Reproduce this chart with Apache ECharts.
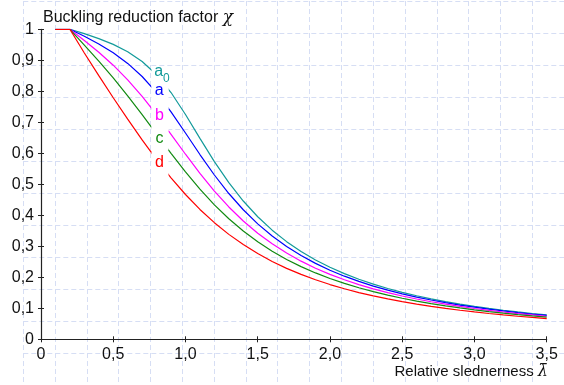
<!DOCTYPE html>
<html>
<head>
<meta charset="utf-8">
<script src="https://cdn.jsdelivr.net/npm/echarts@6/dist/echarts.min.js"></script>
<style>html,body{margin:0;padding:0;background:#fff}#c{width:564px;height:385px}</style>
</head>
<body>
<div id="c"></div>
<script>
// relative slenderness values (x)
const lambda = [0.1,0.2,0.3,0.4,0.5,0.6,0.7,0.8,0.9,1.0,1.1,1.2,1.3,1.4,1.5,1.6,1.7,1.8,1.9,2.0,2.1,2.2,2.3,2.4,2.5,2.6,2.7,2.8,2.9,3.0,3.1,3.2,3.3,3.4,3.5];
// buckling reduction factor chi per curve
const chiA0 = [1,1,0.9859,0.9701,0.9513,0.9276,0.8961,0.8533,0.7961,0.7253,0.6482,0.5732,0.5053,0.4461,0.3953,0.3520,0.3150,0.2833,0.2559,0.2323,0.2117,0.1937,0.1779,0.1639,0.1515,0.1404,0.1305,0.1216,0.1136,0.1063,0.0997,0.0937,0.0882,0.0832,0.0786];
const chiA  = [1,1,0.9775,0.9528,0.9243,0.8900,0.8477,0.7957,0.7339,0.6656,0.5960,0.5300,0.4703,0.4179,0.3724,0.3332,0.2994,0.2702,0.2449,0.2229,0.2036,0.1867,0.1717,0.1585,0.1467,0.1362,0.1267,0.1182,0.1105,0.1036,0.0972,0.0915,0.0862,0.0814,0.0769];
const chiB  = [1,1,0.9641,0.9261,0.8842,0.8371,0.7837,0.7245,0.6612,0.5970,0.5352,0.4781,0.4269,0.3817,0.3422,0.3079,0.2781,0.2521,0.2294,0.2095,0.1920,0.1765,0.1628,0.1506,0.1397,0.1299,0.1211,0.1132,0.1060,0.0994,0.0935,0.0880,0.0831,0.0785,0.0743];
const chiC  = [1,1,0.9491,0.8973,0.8430,0.7854,0.7247,0.6622,0.5998,0.5399,0.4842,0.4338,0.3888,0.3492,0.3145,0.2842,0.2577,0.2345,0.2141,0.1962,0.1803,0.1662,0.1537,0.1425,0.1325,0.1234,0.1153,0.1079,0.1012,0.0951,0.0895,0.0844,0.0797,0.0755,0.0715];
const chiD  = [1,1,0.9235,0.8504,0.7793,0.7100,0.6431,0.5797,0.5208,0.4671,0.4189,0.3762,0.3385,0.3055,0.2766,0.2512,0.2289,0.2093,0.1920,0.1766,0.1630,0.1508,0.1399,0.1302,0.1214,0.1134,0.1062,0.0997,0.0937,0.0882,0.0832,0.0786,0.0744,0.0705,0.0669];
const curveNames = ['a0','a','b','c','d'];
const curveLabels = ['{m|a}{s|0}','a','b','c','d'];
const labelIndex = 7; // label placed at lambda = 0.8
const titleText = 'Buckling reduction factor ';
const xNameText = 'Relative slednerness ';

const FONT = "'Liberation Sans', Arial, sans-serif";
const colors = ['#129a9a','#0000ff','#ff00ff','#118a11','#ff0000'];
const allChi = [chiA0, chiA, chiB, chiC, chiD];
const labelOffsets = [[2,-7.8],[-0.8,-6.8],[-0.5,-3.2],[-0.5,0],[-0.5,-1.3]];

const fmt = v => v === 0 ? '0' : (Number.isInteger(v) ? String(v) : v.toFixed(1).replace('.', ','));
const fmtX = v => v === 0 ? '0' : v.toFixed(1).replace('.', ',');

const series = allChi.map((arr, i) => ({
  name: curveNames[i],
  type: 'line',
  xAxisIndex: 0, yAxisIndex: 0,
  data: lambda.map((l, k) => [l, arr[k]]),
  showSymbol: false,
  symbol: 'none',
  smooth: false,
  lineStyle: { color: colors[i], width: 1.2 },
  markPoint: {
    silent: true,
    symbol: 'rect',
    symbolSize: [17, 24],
    symbolOffset: [3.4, 4.4],
    itemStyle: { color: '#fff' },
    label: {
      show: true, position: 'inside',
      offset: labelOffsets[i],
      formatter: curveLabels[i],
      color: colors[i], fontSize: 16, fontFamily: FONT,
      rich: {
        m: { fontSize: 16, lineHeight: 16, verticalAlign: 'top', color: colors[i], fontFamily: FONT },
        s: { fontSize: 12, lineHeight: 12, padding: [9, 0, 0, 0], verticalAlign: 'top', color: colors[i], fontFamily: FONT }
      }
    },
    data: [{ coord: [lambda[labelIndex], arr[labelIndex]] }]
  }
}));

const gridDash = { show: true, lineStyle: { color: '#d6def4', type: [5, 3], width: 1 } };
const axisCol = '#222';

const option = {
  animation: false,
  backgroundColor: '#fff',
  title: [
    {
      left: 43, top: 9, padding: 0,
      text: '{t|' + titleText + '}{c|χ}',
      textStyle: { fontWeight: 'normal', rich: {
        t: { fontSize: 16, fontFamily: FONT, color: '#111', fontWeight: 'normal' },
        c: { fontSize: 17, fontFamily: "'DejaVu Serif', serif", fontStyle: 'italic', color: '#111', fontWeight: 'normal' }
      } }
    },
    {
      right: 16, top: 364, padding: 0,
      text: '{t|' + xNameText + '}{l|λ̄}',
      textStyle: { fontWeight: 'normal', rich: {
        t: { fontSize: 15, fontFamily: FONT, color: '#111', fontWeight: 'normal' },
        l: { fontSize: 16, fontFamily: "'DejaVu Serif', serif", fontStyle: 'italic', color: '#111', fontWeight: 'normal' }
      } }
    }
  ],
  grid: [
    { left: 41, top: 29.3, width: 505.7, height: 310 },
    { left: 23.3, top: 1, width: 544, height: 384, z: 0 }
  ],
  xAxis: [
    { type: 'value', gridIndex: 0, min: 0, max: 3.5, interval: 0.5, position: 'bottom',
      axisLine: { show: true, onZero: false, lineStyle: { color: axisCol, width: 1.2 } },
      axisTick: { show: true, length: 3, lineStyle: { color: axisCol } },
      axisLabel: { formatter: fmtX, fontSize: 16, fontFamily: FONT, color: '#111', margin: 7 },
      splitLine: { show: false } },
    { type: 'value', gridIndex: 0, min: 0, max: 3.5, interval: 0.5, position: 'bottom',
      axisLine: { show: false },
      axisTick: { show: true, inside: true, length: 3, lineStyle: { color: axisCol } },
      axisLabel: { show: false }, splitLine: { show: false } },
    { type: 'value', gridIndex: 1, min: 0, max: 544, interval: 32,
      axisLine: { show: false }, axisTick: { show: false }, axisLabel: { show: false },
      splitLine: gridDash }
  ],
  yAxis: [
    { type: 'value', gridIndex: 0, min: 0, max: 1, interval: 0.1, position: 'left',
      axisLine: { show: true, onZero: false, lineStyle: { color: axisCol, width: 1.2 } },
      axisTick: { show: true, length: 3, lineStyle: { color: axisCol } },
      axisLabel: { formatter: fmt, fontSize: 16, fontFamily: FONT, color: '#111', margin: 7 },
      splitLine: { show: false } },
    { type: 'value', gridIndex: 0, min: 0, max: 1, interval: 0.1, position: 'left',
      axisLine: { show: false },
      axisTick: { show: true, inside: true, length: 3, lineStyle: { color: axisCol } },
      axisLabel: { show: false }, splitLine: { show: false } },
    { type: 'value', gridIndex: 1, min: 0, max: 384, interval: 32,
      axisLine: { show: false }, axisTick: { show: false }, axisLabel: { show: false },
      splitLine: gridDash }
  ],
  series: series
};

const chart = echarts.init(document.getElementById('c'), null, { renderer: 'canvas' });
chart.setOption(option);
</script>
</body>
</html>
